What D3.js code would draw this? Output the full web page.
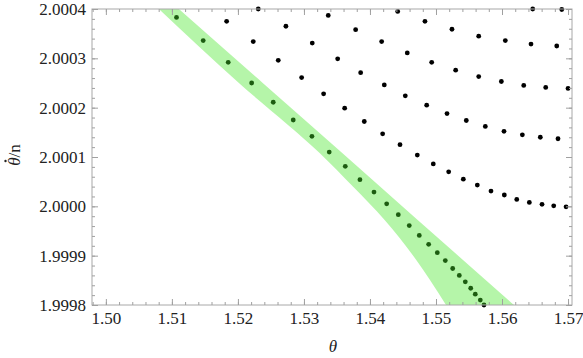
<!DOCTYPE html>
<html>
<head>
<meta charset="utf-8">
<script src="https://cdn.jsdelivr.net/npm/d3@7"></script>
<style>
  body { margin: 0; background: #fff; }
  .axis path { stroke: none; }
  .axis line { stroke: #a0a0a0; }
  .axis text { font-family: "Liberation Serif", "Times New Roman", serif; font-size: 17px; fill: #222; }
  .label { font-family: "Liberation Serif", "Times New Roman", serif; font-size: 17px; fill: #222; }
</style>
</head>
<body>
<svg class="chart" width="583" height="358"></svg>
<script>
// tick values / labels
var xTicks = [1.50, 1.51, 1.52, 1.53, 1.54, 1.55, 1.56, 1.57];
var xTickLabels = ["1.50", "1.51", "1.52", "1.53", "1.54", "1.55", "1.56", "1.57"];
var yTicks = [1.9998, 1.9999, 2.0000, 2.0001, 2.0002, 2.0003, 2.0004];
var yTickLabels = ["1.9998", "1.9999", "2.0000", "2.0001", "2.0002", "2.0003", "2.0004"];

// green band: horizontal slices (level, left theta, right theta)
var bandLevel = [2.0004, 2.00025, 2.000108, 2.00004, 1.9999725, 1.9998913, 1.9998507, 1.9998];
var bandLeft  = [1.50803, 1.52015, 1.53238, 1.53742, 1.54222, 1.54701, 1.54909, 1.55152];
var bandRight = [1.51106, 1.52376, 1.53580, 1.54152, 1.54723, 1.55409, 1.55752, 1.56182];

// dots inside the band
var bandTheta = [1.51070, 1.51474, 1.51853, 1.52208, 1.52535, 1.52838, 1.53121, 1.53383, 1.53626,
                 1.53848, 1.54061, 1.54253, 1.54429, 1.54595, 1.54747, 1.54889, 1.55020, 1.55141,
                 1.55253, 1.55353, 1.55444, 1.55526, 1.55595, 1.55671, 1.55727];
var bandRate  = [2.000383, 2.000336, 2.000292, 2.000250, 2.000211, 2.000175, 2.000142, 2.000110, 2.000081,
                 2.000054, 2.000029, 2.000005, 1.999983, 1.999961, 1.999941, 1.999923, 1.999906, 1.999890,
                 1.999874, 1.999860, 1.999847, 1.999834, 1.999822, 1.999810, 1.999800];

// black dot series
var s1Theta = [1.51829, 1.52232, 1.52611, 1.52965, 1.53298, 1.53617, 1.53914, 1.54192, 1.54455, 1.54717,
               1.54959, 1.55192, 1.55414, 1.55626, 1.55833, 1.56035, 1.56223, 1.56414, 1.56606, 1.56783, 1.56970];
var s1Rate  = [2.000375, 2.000334, 2.000296, 2.000261, 2.000228, 2.000199, 2.000172, 2.000147, 2.000125, 2.000104,
               2.000086, 2.000070, 2.000055, 2.000043, 2.000031, 2.000023, 2.000014, 2.000008, 2.000004, 2.000001, 1.999999];
var s2Theta = [1.52308, 1.52727, 1.53126, 1.53511, 1.53859, 1.54217, 1.54535, 1.54859, 1.55167, 1.55459,
               1.55747, 1.56030, 1.56308, 1.56580, 1.56848];
var s2Rate  = [2.000400, 2.000365, 2.000331, 2.000299, 2.000271, 2.000246, 2.000224, 2.000205, 2.000188, 2.000174,
               2.000162, 2.000152, 2.000145, 2.000140, 2.000137];
var s3Theta = [1.53368, 1.53783, 1.54177, 1.54565, 1.54935, 1.55298, 1.55647, 1.55990, 1.56329, 1.56662, 1.57000];
var s3Rate  = [2.000387, 2.000358, 2.000334, 2.000311, 2.000292, 2.000276, 2.000263, 2.000253, 2.000245, 2.000241, 2.000239];
var s4Theta = [1.54420, 1.54833, 1.55242, 1.55647, 1.56050, 1.56439, 1.56829];
var s4Rate  = [2.000395, 2.000375, 2.000359, 2.000345, 2.000336, 2.000329, 2.000325];
var s5Theta = [1.56465, 1.56905];
var s5Rate  = [2.000400, 2.000399];

var svg = d3.select(".chart"),
    margin = { top: 9, right: 11, bottom: 53, left: 92 },
    width = +svg.attr("width") - margin.left - margin.right,
    height = +svg.attr("height") - margin.top - margin.bottom;

var x = d3.scaleLinear().domain([1.4979, 1.5706]).range([0, width]),
    y = d3.scaleLinear().domain([1.9998, 2.0004]).range([height, 0]);

var g = svg.append("g")
    .attr("transform", "translate(" + margin.left + "," + margin.top + ")");

g.append("clipPath").attr("id", "plot")
    .append("rect").attr("width", width).attr("height", height);

function zip(a, b) { return a.map(function(v, i) { return [v, b[i]]; }); }

var blackSeries = [zip(bandTheta, bandRate), zip(s1Theta, s1Rate), zip(s2Theta, s2Rate),
                   zip(s3Theta, s3Rate), zip(s4Theta, s4Rate), zip(s5Theta, s5Rate)];

g.append("g").selectAll("circle")
    .data(d3.merge(blackSeries))
    .enter().append("circle")
    .attr("cx", function(d) { return x(d[0]); })
    .attr("cy", function(d) { return y(d[1]); })
    .attr("r", 2.4)
    .attr("fill", "#000");

var band = bandLevel.map(function(v, i) { return { v: v, l: bandLeft[i], r: bandRight[i] }; });

// translucent band over the dots
g.append("path")
    .datum(band)
    .attr("clip-path", "url(#plot)")
    .attr("fill", "rgb(70,230,40)")
    .attr("fill-opacity", 0.4)
    .attr("d", d3.area()
        .y(function(d) { return y(d.v); })
        .x0(function(d) { return x(d.l); })
        .x1(function(d) { return x(d.r); })
        .curve(d3.curveMonotoneY));

// frame
g.append("rect")
    .attr("width", width).attr("height", height)
    .attr("fill", "none").attr("stroke", "#a8a8a8");

var xMinor = d3.range(0, 37).map(function(i) { return 1.498 + i * 0.002; });
var yMinor = d3.range(0, 31).map(function(i) { return 1.9998 + i * 0.00002; });

g.append("g").attr("class", "axis").attr("transform", "translate(0," + height + ")")
    .call(d3.axisBottom(x).tickValues(xMinor).tickSize(-3).tickFormat(""));
g.append("g").attr("class", "axis").attr("transform", "translate(0," + height + ")")
    .call(d3.axisBottom(x).tickValues(xTicks).tickSize(-6).tickPadding(7)
        .tickFormat(function(d, i) { return xTickLabels[i]; }));
g.append("g").attr("class", "axis")
    .call(d3.axisTop(x).tickValues(xMinor).tickSize(-3).tickFormat(""));
g.append("g").attr("class", "axis")
    .call(d3.axisTop(x).tickValues(xTicks).tickSize(-6).tickFormat(""));

g.append("g").attr("class", "axis")
    .call(d3.axisLeft(y).tickValues(yMinor).tickSize(-3).tickFormat(""));
g.append("g").attr("class", "axis")
    .call(d3.axisLeft(y).tickValues(yTicks).tickSize(-6).tickPadding(6)
        .tickFormat(function(d, i) { return yTickLabels[i]; }));
g.append("g").attr("class", "axis").attr("transform", "translate(" + width + ",0)")
    .call(d3.axisRight(y).tickValues(yMinor).tickSize(-3).tickFormat(""));
g.append("g").attr("class", "axis").attr("transform", "translate(" + width + ",0)")
    .call(d3.axisRight(y).tickValues(yTicks).tickSize(-6).tickFormat(""));

// axis titles
svg.append("text")
    .attr("class", "label")
    .attr("x", 333).attr("y", 352)
    .attr("text-anchor", "middle")
    .style("font-style", "italic")
    .text("θ");

var yl = svg.append("g").attr("transform", "translate(20,155) rotate(-90)");
var ylText = yl.append("text")
    .attr("class", "label")
    .attr("text-anchor", "middle");
ylText.append("tspan").style("font-style", "italic").text("θ");
ylText.append("tspan").text("/n");
// time-derivative dot over theta
yl.append("circle")
    .attr("cx", -6).attr("cy", -14.5).attr("r", 1.2)
    .attr("fill", "#222");
</script>
</body>
</html>
